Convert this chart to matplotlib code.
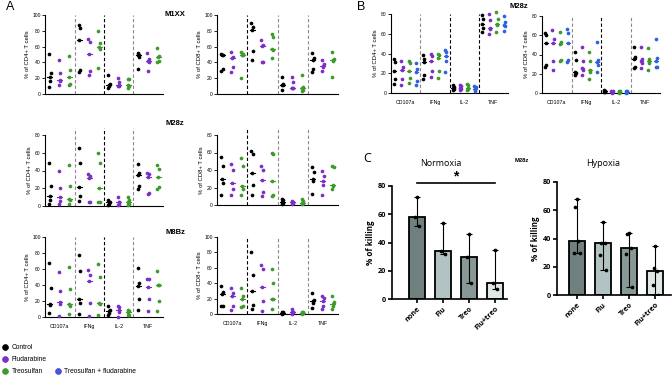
import matplotlib.pyplot as plt
import numpy as np
from matplotlib.lines import Line2D

W, H = 672, 375
plt.rcParams['font.family'] = ['Liberation Sans', 'DejaVu Sans']

cytokines = ["CD107a", "IFNg", "IL-2", "TNF"]
conditions = ["Control", "Fludarabine", "Treosulfan", "Treosulfan + fludarabine"]
cond_colors = ["#000000", "#7b2fc4", "#3f9a2c", "#2f62e0"]

# panel A: % positive cells, [cytokine][condition] -> donors
m1xx_cd4 = [
    [[51, 27, 21, 17, 9], [43, 27, 18, 17, 12], [48, 30, 22, 13, 11]],
    [[87, 84, 68, 30, 28], [70, 66, 51, 29, 24], [80, 64, 60, 57, 33]],
    [[24, 13, 12, 10, 7], [20, 15, 11, 10, 10], [19, 19, 12, 10, 7]],
    [[52, 50, 50, 47, 32], [52, 44, 42, 41, 29], [58, 48, 47, 42, 41]],
]
m1xx_cd8 = [
    [[51, 50, 49, 32, 29], [53, 47, 45, 34, 28], [53, 51, 49, 49, 20]],
    [[90, 85, 81, 55, 43], [68, 62, 61, 41, 40], [76, 72, 57, 56, 46]],
    [[22, 13, 12, 11, 5], [21, 15, 8, 8, 7], [24, 9, 8, 5, 4]],
    [[52, 45, 43, 32, 28], [43, 38, 36, 34, 29], [53, 44, 43, 42, 21]],
]
m28z_cd4 = [
    [[48, 22, 11, 7, 2], [40, 20, 10, 6, 2], [46, 23, 8, 7, 2]],
    [[65, 48, 21, 11, 6], [36, 34, 31, 5, 4], [60, 49, 20, 5, 5]],
    [[7, 5, 4, 2, 1], [10, 5, 4, 2, 1], [10, 7, 4, 2, 1]],
    [[47, 37, 35, 22, 19], [37, 36, 33, 15, 14], [46, 42, 33, 21, 19]],
]
m28z_cd8 = [
    [[55, 45, 30, 25, 12], [47, 40, 25, 18, 12], [54, 45, 22, 18, 12]],
    [[62, 58, 37, 23, 12], [45, 40, 29, 15, 10], [60, 58, 27, 12, 10]],
    [[7, 6, 3, 2, 1], [5, 4, 3, 2, 1], [7, 5, 2, 2, 1]],
    [[43, 38, 30, 27, 13], [39, 33, 28, 23, 12], [45, 44, 23, 22, 18]],
]
m8bz_cd4 = [
    [[67, 36, 16, 15, 5], [56, 33, 19, 16, 1], [63, 35, 16, 14, 4]],
    [[78, 58, 22, 18, 4], [59, 53, 45, 17, 1], [66, 50, 17, 16, 2]],
    [[14, 9, 8, 5, 2], [14, 12, 9, 6, 0], [9, 7, 6, 3, 2]],
    [[61, 42, 39, 23, 9], [48, 47, 37, 22, 7], [57, 40, 40, 20, 7]],
]
m8bz_cd8 = [
    [[37, 28, 26, 11, 10], [34, 27, 24, 10, 5], [34, 23, 19, 10, 9]],
    [[81, 51, 30, 12, 7], [64, 58, 35, 17, 4], [59, 40, 20, 19, 7]],
    [[3, 2, 1, 1, 0], [6, 3, 3, 2, 0], [3, 2, 1, 1, 0]],
    [[27, 18, 17, 14, 8], [23, 21, 17, 11, 7], [23, 15, 13, 10, 7]],
]

# panel B: M28z with the combination treatment
b_cd4 = [
    [[34, 31, 22, 14, 9], [32, 26, 23, 14, 8], [32, 30, 22, 15, 10], [30, 24, 21, 12, 8]],
    [[38, 34, 31, 18, 14], [40, 37, 32, 22, 16], [40, 38, 35, 22, 15], [44, 42, 37, 32, 21]],
    [[8, 6, 5, 4, 3], [8, 7, 5, 4, 3], [9, 8, 5, 4, 3], [7, 6, 4, 4, 2]],
    [[79, 75, 70, 66, 62], [80, 74, 66, 65, 60], [82, 75, 70, 69, 62], [78, 72, 69, 68, 63]],
]
b_cd8 = [
    [[62, 60, 52, 29, 27], [65, 56, 52, 33, 24], [63, 53, 51, 34, 33], [66, 62, 52, 34, 32]],
    [[43, 34, 22, 21, 19], [48, 33, 26, 24, 19], [43, 33, 24, 22, 15], [53, 34, 32, 29, 22]],
    [[3, 2, 2, 1, 1], [2, 2, 1, 1, 0], [2, 2, 1, 1, 0], [2, 2, 1, 1, 0]],
    [[48, 37, 35, 27, 26], [48, 35, 33, 31, 26], [47, 35, 33, 31, 24], [56, 36, 33, 27, 27]],
]

# panel C: % of killing
treatments = ["none", "Flu", "Treo", "Flu+treo"]
normoxia = [[72, 58, 52], [54, 34, 32], [46, 30, 11], [35, 11, 7]]
hypoxia = [[68, 62, 38, 30, 30], [52, 37, 37, 28, 18], [44, 43, 33, 29, 6], [35, 19, 17, 7, 0]]
bar_colors = ["#6f807e", "#b3c2c2", "#879896", "#dfe8e6"]


def box(x0, y0, x1, y1):
    return [x0 / W, 1 - y1 / H, (x1 - x0) / W, (y1 - y0) / H]


def dot_panel(ax, data, ymax, ylabel, seps, sep_top, show_x):
    ncond = len(data[0])
    jit = [-0.35, 0.3, -0.1, 0.2, -0.3]
    for g, groups in enumerate(data):
        for c, vals in enumerate(groups):
            xc = g + (c + 0.5) / ncond
            xs = [xc + jit[i] * 0.25 / ncond for i in range(len(vals))]
            ax.scatter(xs, vals, s=7, color=cond_colors[c], lw=0, zorder=3, clip_on=False)
            med = np.median(vals)
            ax.plot([xc - 0.25 / ncond, xc + 0.25 / ncond], [med, med], color=cond_colors[c], lw=0.8, zorder=3)
    for i, col in enumerate(seps):
        ax.plot([i + 1, i + 1], [0, sep_top], ls=(0, (3, 2)), color=col, lw=0.8, clip_on=False)
    ax.set_xlim(0, 4)
    ax.set_ylim(0, ymax)
    ax.set_yticks(np.arange(0, ymax + 1, 20))
    for s in ["top", "right"]:
        ax.spines[s].set_visible(False)
    for s in ["left", "bottom"]:
        ax.spines[s].set_linewidth(0.8)
    ax.tick_params(axis="y", labelsize=3.6, length=2, width=0.6, pad=1)
    ax.set_ylabel(ylabel, fontsize=4.3, labelpad=2)
    if show_x:
        ax.set_xticks([0.5, 1.5, 2.5, 3.5])
        ax.set_xticklabels(cytokines, fontsize=3.8)
        ax.tick_params(axis="x", length=0, pad=5)
    else:
        ax.set_xticks([])


def bar_panel(ax, points, xlim):
    meds = [np.median(p) for p in points]
    x = np.arange(len(points))
    ax.bar(x, meds, width=0.62, color=bar_colors, edgecolor="black", lw=1.3, zorder=2)
    lo = [m - min(p) for m, p in zip(meds, points)]
    hi = [max(p) - m for m, p in zip(meds, points)]
    ax.errorbar(x, meds, yerr=[lo, hi], fmt="none", ecolor="black", elinewidth=0.8,
                capsize=2.5, capthick=0.8, zorder=3)
    offs = [0.0, -0.06, 0.07, -0.1, 0.12]
    for i, p in enumerate(points):
        ax.scatter([i + offs[j] for j in range(len(p))], p, s=7, color="black", lw=0, zorder=4)
    ax.set_xlim(*xlim)
    ax.set_ylim(0, 80)
    ax.set_yticks([0, 20, 40, 60, 80])
    for s in ["top", "right"]:
        ax.spines[s].set_visible(False)
    for s in ["left", "bottom"]:
        ax.spines[s].set_linewidth(1.2)
    ax.set_xticks(x)
    ax.set_xticklabels(treatments, rotation=45, ha="right", rotation_mode="anchor",
                       fontsize=5.2, fontweight="bold", family=["Open Sans", "DejaVu Sans"])
    ax.tick_params(axis="both", length=3, width=1.2, pad=1.5)
    ax.tick_params(axis="y", labelsize=5.2)
    for t in ax.get_yticklabels():
        t.set_fontweight("bold")
        t.set_family(["Open Sans", "DejaVu Sans"])
    ax.set_ylabel("% of killing", fontsize=5.8, fontweight="bold", labelpad=2,
                  family=["Open Sans", "DejaVu Sans"])


fig = plt.figure(figsize=(W / 100, H / 100), dpi=100)
g, k = "#8a8a8a", "#000000"

ax = fig.add_axes(box(45, 15, 163, 94))
dot_panel(ax, m1xx_cd4, 100, "% of CD4+ T cells", [g, k, g], 100, False)
ax = fig.add_axes(box(217, 15, 338, 94))
dot_panel(ax, m1xx_cd8, 100, "% of CD8+ T cells", [k, g, g], 100, False)
ax = fig.add_axes(box(45, 135, 163, 206))
dot_panel(ax, m28z_cd4, 80, "% of CD4+ T cells", [g, k, g], 88, False)
ax = fig.add_axes(box(217, 135, 338, 205))
dot_panel(ax, m28z_cd8, 80, "% of CD8+ T cells", [k, g, g], 88, False)
ax = fig.add_axes(box(45, 237, 163, 317))
dot_panel(ax, m8bz_cd4, 100, "% of CD4+ T cells", [g, k, g], 100, True)
ax = fig.add_axes(box(217, 237, 338, 314))
dot_panel(ax, m8bz_cd8, 100, "% of CD8+ T cells", [k, g, g], 100, True)

ax = fig.add_axes(box(391, 14, 508, 93))
dot_panel(ax, b_cd4, 80, "% of CD4+ T cells", [g, k, k], 80, True)
ax = fig.add_axes(box(542, 16, 660, 93))
dot_panel(ax, b_cd8, 80, "% of CD8+ T cells", [g, k, g], 80, True)

ax = fig.add_axes(box(392, 186, 507, 299))
bar_panel(ax, normoxia, (-0.96, 3.46))
ax.plot([0, 3], [82, 82], color="black", lw=1.2, clip_on=False)
ax.text(1.5, 82, "*", ha="center", va="bottom", fontsize=10, fontweight="bold")
ax = fig.add_axes(box(557, 182, 671, 295))
bar_panel(ax, hypoxia, (-0.75, 3.6))

cfont = ["Open Sans", "DejaVu Sans"]
fig.text(441 / W, 1 - 163 / H, "Normoxia", ha="center", va="center", fontsize=6.5, family=cfont)
fig.text(603 / W, 1 - 163 / H, "Hypoxia", ha="center", va="center", fontsize=6.5, family=cfont)
fig.text(522 / W, 1 - 161 / H, "M28z", ha="center", va="center", fontsize=4.2, fontweight="bold")
fig.text(175 / W, 1 - 15 / H, "M1XX", ha="center", va="center", fontsize=5.5, fontweight="bold")
fig.text(175 / W, 1 - 123 / H, "M28z", ha="center", va="center", fontsize=5.5, fontweight="bold")
fig.text(175 / W, 1 - 232 / H, "M8Bz", ha="center", va="center", fontsize=5.5, fontweight="bold")
fig.text(519 / W, 1 - 6 / H, "M28z", ha="center", va="center", fontsize=5.5, fontweight="bold")
fig.text(6 / W, 1 - 7 / H, "A", ha="left", va="center", fontsize=9)
fig.text(357 / W, 1 - 7 / H, "B", ha="left", va="center", fontsize=9)
fig.text(363 / W, 1 - 158 / H, "C", ha="left", va="center", fontsize=9, family=cfont)

blank = Line2D([], [], ls="", marker=None)
handles = [Line2D([], [], ls="", marker="o", markersize=4.2, markerfacecolor=cond_colors[i],
                  markeredgecolor=cond_colors[i], markeredgewidth=0.5) for i in range(3)]
combo = Line2D([], [], ls="", marker="o", markersize=4.2, markerfacecolor=cond_colors[3],
               markeredgecolor=cond_colors[1], markeredgewidth=0.5)
fig.legend(handles + [blank, blank, combo], conditions[:3] + ["", ""] + conditions[3:],
           ncol=2, loc="upper left", bbox_to_anchor=(0.003, 1 - 344 / H), frameon=False,
           fontsize=4.8, borderaxespad=0, borderpad=0, handlelength=0.8, handletextpad=0.6,
           labelspacing=0.75, columnspacing=1.3)

fig.savefig("out.png", dpi=100)
